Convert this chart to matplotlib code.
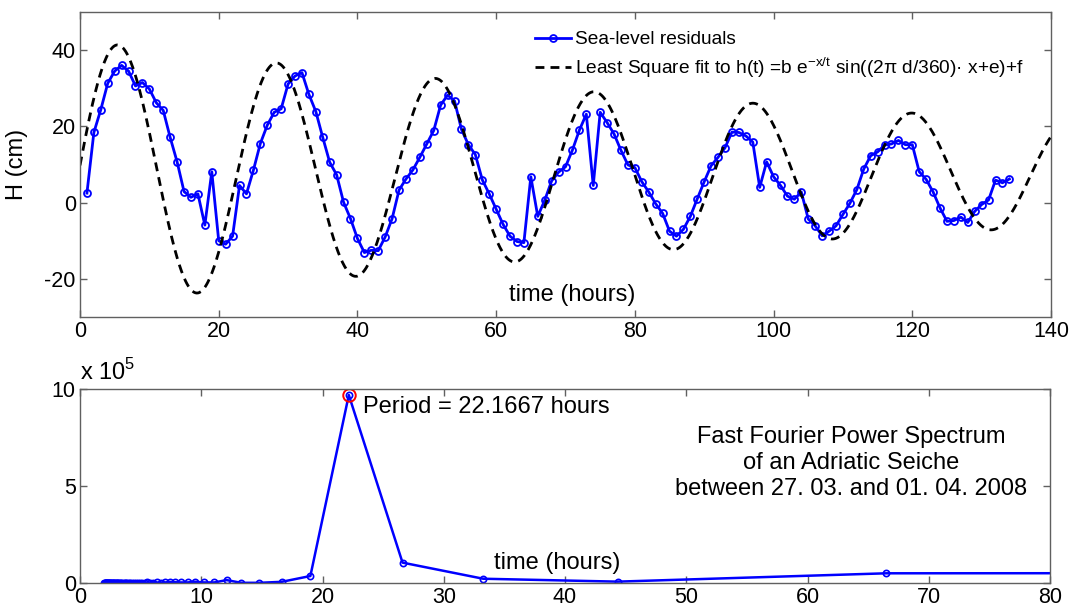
import numpy as np
import matplotlib
matplotlib.use("Agg")
import matplotlib.pyplot as plt

plt.rcParams['font.family'] = ['Liberation Sans', 'DejaVu Sans']
plt.rcParams['axes.unicode_minus'] = False

# ---------------- data: sea-level residuals (top panel) ----------------
hours = list(range(1, 135))
residuals = [
    2.5, 18.4, 24.4, 31.3, 34.5, 36.0, 34.5, 30.6, 31.5, 29.8,
    26.2, 24.2, 17.1, 10.7, 2.9, 1.4, 2.3, -5.9, 8.1, -10.0,
    -10.9, -8.8, 4.5, 2.3, 8.5, 15.5, 20.3, 23.7, 24.6, 31.1,
    33.2, 34.1, 28.4, 23.9, 17.1, 10.6, 7.3, 0.1, -4.2, -9.4,
    -13.1, -12.5, -12.6, -9.0, -4.2, 3.3, 6.2, 8.6, 11.9, 15.4,
    18.9, 25.6, 28.2, 26.7, 19.2, 15.2, 12.6, 6.0, 2.3, -1.7,
    -5.7, -8.8, -10.2, -10.5, 6.8, -3.6, 0.6, 5.7, 8.0, 9.4,
    13.8, 19.0, 23.2, 4.5, 23.7, 21.0, 18.0, 13.7, 9.9, 9.2,
    5.5, 2.8, -0.3, -2.8, -7.5, -8.8, -7.0, -3.6, 1.0, 5.5,
    9.7, 11.9, 14.4, 18.5, 18.4, 17.5, 15.9, 4.0, 10.7, 6.8,
    4.5, 1.7, 0.9, 2.8, -4.3, -6.1, -8.7, -7.5, -6.1, -3.1,
    -0.2, 3.4, 8.8, 12.3, 13.3, 15.1, 15.4, 16.3, 15.2, 15.2,
    8.1, 6.1, 2.8, -1.4, -4.9, -4.7, -3.8, -5.2, -2.3, -0.5,
    0.7, 5.9, 5.2, 6.2,
]

# least-square fit parameters of h(t) = b e^(-x/t) sin((2*pi*d/360) x + e) + f
fit_b = 35.0
fit_t = 152.0
fit_d = 15.72
fit_e = 0.062
fit_f = 7.6

# ---------------- data: FFT power spectrum (bottom panel) ----------------
periods = [
    133.00, 66.50, 44.33, 33.25, 26.60, 22.17, 19.00, 16.63, 14.78, 13.30,
    12.09, 11.08, 10.23, 9.50, 8.87, 8.31, 7.82, 7.39, 7.00, 6.65,
    6.33, 6.05, 5.78, 5.54, 5.32, 5.12, 4.93, 4.75, 4.59, 4.43,
    4.29, 4.16, 4.03, 3.91, 3.80, 3.69, 3.59, 3.50, 3.41, 3.33,
    3.24, 3.17, 3.09, 3.02, 2.96, 2.89, 2.83, 2.77, 2.71, 2.66,
    2.61, 2.56, 2.51, 2.46, 2.42, 2.38, 2.33, 2.29, 2.25, 2.22,
    2.18, 2.15, 2.11, 2.08, 2.05, 2.02,
]
power_1e5 = [
    0.52, 0.50, 0.07, 0.22, 1.05, 9.69, 0.36, 0.06, 0.01, 0.01,
    0.15, 0.03, 0.03, 0.06, 0.03, 0.03, 0.04, 0.05, 0.03, 0.02,
    0.03, 0.02, 0.02, 0.03, 0.02, 0.02, 0.02, 0.02, 0.02, 0.02,
    0.02, 0.02, 0.02, 0.02, 0.02, 0.02, 0.02, 0.02, 0.02, 0.02,
    0.02, 0.02, 0.02, 0.02, 0.02, 0.02, 0.02, 0.02, 0.02, 0.02,
    0.02, 0.02, 0.02, 0.02, 0.02, 0.02, 0.02, 0.02, 0.02, 0.02,
    0.02, 0.02, 0.02, 0.02, 0.02, 0.02,
]
peak_period = 22.1667

top_xticks = [0, 20, 40, 60, 80, 100, 120, 140]
top_yticks = [-20, 0, 20, 40]
bot_xticks = [0, 10, 20, 30, 40, 50, 60, 70, 80]
bot_yticks = [0, 5, 10]

spectrum_text = ("Fast Fourier Power Spectrum\nof an Adriatic Seiche\n"
                 "between 27. 03. and 01. 04. 2008")

# ---------------- figure ----------------
W, H = 1074, 610
fig = plt.figure(figsize=(W / 100, H / 100), dpi=100)

def fr(x0, y0, x1, y1):
    return [x0 / W, 1 - y1 / H, (x1 - x0) / W, (y1 - y0) / H]

spine_col = '#606060'
TICK_FS = 15.5
TXT_FS = 17

def style(ax):
    for s in ax.spines.values():
        s.set_color(spine_col)
        s.set_linewidth(1.0)
    ax.tick_params(direction='in', length=5, width=1, color=spine_col,
                   top=True, right=True, labelsize=TICK_FS, pad=3)

# top panel
ax1 = fig.add_axes(fr(80, 12, 1051, 317))
style(ax1)
xf = np.linspace(0, 140, 1400)
yf = fit_b * np.exp(-xf / fit_t) * np.sin((2 * np.pi * fit_d / 360) * xf + fit_e) + fit_f
ax1.plot(hours, residuals, '-o', color='#0000ff', lw=2.0, ms=5,
         mfc='none', mec='#0000ff', mew=1.3, label='Sea-level residuals')
ax1.plot(xf, yf, '--', color='black', lw=2.0, dashes=(3.2, 2.2),
         label='Least Square fit to h(t) =b e$^{\\mathregular{-x/t}}$ sin((2\u03c0 d/360)\u00b7 x+e)+f')
ax1.set_xlim(0, 140)
ax1.set_ylim(-30, 50)
ax1.set_xticks(top_xticks)
ax1.set_yticks(top_yticks)
ax1.set_ylabel('H (cm)', fontsize=TXT_FS)
ax1.yaxis.set_label_coords(-(80 - 28) / 971, 0.5)
ax1.text(0.507, 0.072, 'time (hours)', transform=ax1.transAxes,
         ha='center', va='center', fontsize=TXT_FS)
leg = ax1.legend(loc='upper left', bbox_to_anchor=(535 / W, 1 - 31 / H),
                 bbox_transform=fig.transFigure, frameon=False,
                 fontsize=13.8, handlelength=1.9, handletextpad=0.2,
                 labelspacing=0.35, borderpad=0, borderaxespad=0)

# bottom panel
ax2 = fig.add_axes(fr(80, 389, 1050, 583))
style(ax2)
ax2.plot(periods, power_1e5, '-o', color='#0000ff', lw=1.8, ms=4.5,
         mfc='none', mec='#0000ff', mew=1.2)
ipk = int(np.argmax(power_1e5))
ax2.plot([periods[ipk]], [power_1e5[ipk]], 'o', ms=9, mfc='none',
         mec='red', mew=1.4)
ax2.set_xlim(0, 80)
ax2.set_ylim(0, 10)
ax2.set_xticks(bot_xticks)
ax2.set_yticks(bot_yticks)
ax2.text(periods[ipk] + 1.2, power_1e5[ipk] - 0.6,
         'Period = %.4f hours' % peak_period, fontsize=TXT_FS,
         ha='left', va='center')
ax2.text(0.795, 0.619, spectrum_text, transform=ax2.transAxes,
         ha='center', va='center', fontsize=TXT_FS, linespacing=1.25)
ax2.text(0.492, 0.103, 'time (hours)', transform=ax2.transAxes,
         ha='center', va='center', fontsize=TXT_FS)
ax2.text(0.0, 1.02, 'x 10$^{\\mathregular{5}}$', transform=ax2.transAxes,
         ha='left', va='bottom', fontsize=TXT_FS)

fig.savefig('out.png', dpi=100)
